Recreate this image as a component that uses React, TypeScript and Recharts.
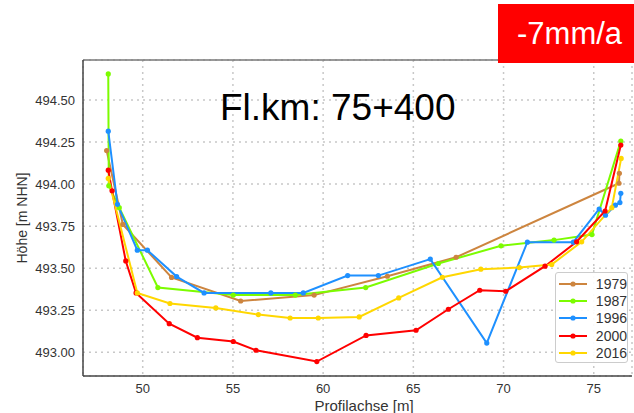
import { CartesianGrid, Line, LineChart, ReferenceLine, XAxis, YAxis } from "recharts";

const C = {
  y1979: "#CD853F",
  y1987: "#7CFC00",
  y1996: "#1E90FF",
  y2000: "#FF0000",
  y2016: "#FFD700",
  grid: "#C8C8C8",
  axis: "#444444",
  text: "#333333",
};

const FONT = "'Liberation Sans', Arial, sans-serif";

const xTicks = [50, 55, 60, 65, 70, 75];
const yTicks = [493.0, 493.25, 493.5, 493.75, 494.0, 494.25, 494.5];

const s1979 = [
  { x: 48.0, y: 494.2 }, { x: 48.9, y: 493.76 }, { x: 51.6, y: 493.445 }, { x: 55.43, y: 493.305 },
  { x: 59.5, y: 493.34 }, { x: 63.56, y: 493.452 }, { x: 67.37, y: 493.565 }, { x: 76.4, y: 494.005 },
  { x: 76.42, y: 494.064 },
];
const s1987 = [
  { x: 48.09, y: 494.655 }, { x: 48.12, y: 493.99 }, { x: 48.7, y: 493.86 }, { x: 50.84, y: 493.385 },
  { x: 55.02, y: 493.34 }, { x: 58.46, y: 493.34 }, { x: 62.36, y: 493.385 }, { x: 66.39, y: 493.528 },
  { x: 69.86, y: 493.633 }, { x: 72.8, y: 493.667 }, { x: 74.9, y: 493.7 }, { x: 76.5, y: 494.256 },
];
const s1996 = [
  { x: 48.09, y: 494.315 }, { x: 48.6, y: 493.88 }, { x: 49.7, y: 493.607 }, { x: 50.26, y: 493.607 },
  { x: 51.88, y: 493.45 }, { x: 53.4, y: 493.353 }, { x: 57.1, y: 493.353 }, { x: 58.9, y: 493.353 },
  { x: 61.36, y: 493.456 }, { x: 63.06, y: 493.456 }, { x: 65.94, y: 493.554 }, { x: 69.07, y: 493.055 },
  { x: 71.32, y: 493.655 }, { x: 73.87, y: 493.655 }, { x: 75.3, y: 493.852 }, { x: 75.65, y: 493.815 },
  { x: 76.2, y: 493.875 }, { x: 76.45, y: 493.89 }, { x: 76.5, y: 493.945 },
];
const s2000 = [
  { x: 48.09, y: 494.083 }, { x: 48.3, y: 493.96 }, { x: 49.06, y: 493.543 }, { x: 49.63, y: 493.353 },
  { x: 51.47, y: 493.17 }, { x: 53.03, y: 493.087 }, { x: 55.02, y: 493.064 }, { x: 56.28, y: 493.012 },
  { x: 59.65, y: 492.945 }, { x: 62.38, y: 493.1 }, { x: 65.15, y: 493.131 }, { x: 66.94, y: 493.256 },
  { x: 68.68, y: 493.369 }, { x: 70.12, y: 493.363 }, { x: 72.3, y: 493.512 }, { x: 74.05, y: 493.657 },
  { x: 75.63, y: 493.84 }, { x: 76.5, y: 494.232 },
];
const s2016 = [
  { x: 48.09, y: 494.034 }, { x: 49.7, y: 493.353 }, { x: 51.51, y: 493.29 }, { x: 54.05, y: 493.264 },
  { x: 56.41, y: 493.224 }, { x: 58.17, y: 493.204 }, { x: 59.73, y: 493.204 }, { x: 62.0, y: 493.21 },
  { x: 64.19, y: 493.323 }, { x: 66.61, y: 493.446 }, { x: 68.74, y: 493.494 }, { x: 70.88, y: 493.504 },
  { x: 72.67, y: 493.522 }, { x: 74.33, y: 493.657 }, { x: 76.0, y: 493.86 }, { x: 76.52, y: 494.153 },
];

const series = [
  { name: "1979", data: s1979, color: C.y1979 },
  { name: "1987", data: s1987, color: C.y1987 },
  { name: "1996", data: s1996, color: C.y1996 },
  { name: "2000", data: s2000, color: C.y2000 },
  { name: "2016", data: s2016, color: C.y2016 },
];

const Y_TOP = 494.738;

// legend sits inside the plot, so it's drawn as a plain overlay
function LegendBox() {
  return (
    <div
      style={{
        position: "absolute",
        left: 555,
        top: 272,
        width: 73,
        height: 91,
        boxSizing: "border-box",
        background: "rgba(255,255,255,0.9)",
        border: "1px solid #CCCCCC",
        borderRadius: 3,
        padding: "2px 0 0 2px",
        fontFamily: FONT,
        fontSize: 14,
        color: C.text,
      }}
    >
      {series.map((s) => (
        <div key={s.name} style={{ display: "flex", alignItems: "center", height: 17.3 }}>
          <svg width={30} height={10} style={{ marginRight: 9 }}>
            <line x1={1} y1={5} x2={29} y2={5} stroke={s.color} strokeWidth={2} />
            <circle cx={15} cy={5} r={2.6} fill={s.color} />
          </svg>
          <span>{s.name}</span>
        </div>
      ))}
    </div>
  );
}

export default function App() {
  return (
    <div style={{ position: "absolute", left: 0, top: 0, width: 634, height: 413, background: "#fff", overflow: "hidden" }}>
      <LineChart width={634} height={413} margin={{ top: 60, right: 2, left: 23, bottom: 17 }}>
        <CartesianGrid stroke={C.grid} strokeDasharray="2 4" strokeWidth={1.5} />
        <XAxis
          type="number"
          dataKey="x"
          domain={[46.69, 77.12]}
          ticks={xTicks}
          allowDataOverflow
          height={20}
          tick={{ fontSize: 13, fontFamily: FONT, fill: C.text }}
          tickLine={false}
          axisLine={{ stroke: C.axis, strokeWidth: 1.5 }}
        />
        <YAxis
          type="number"
          dataKey="y"
          domain={[492.859, Y_TOP]}
          ticks={yTicks}
          allowDataOverflow
          width={60}
          tickFormatter={(v: number) => v.toFixed(2)}
          tick={{ fontSize: 13, fontFamily: FONT, fill: C.text }}
          tickLine={false}
          axisLine={{ stroke: C.axis, strokeWidth: 1.5 }}
        />
        <ReferenceLine y={Y_TOP} stroke="#777777" strokeWidth={1.5} />
        {series.map((s) => (
          <Line
            key={s.name}
            data={s.data}
            dataKey="y"
            name={s.name}
            type="linear"
            stroke={s.color}
            strokeWidth={2}
            dot={{ r: 2.6, fill: s.color, stroke: s.color, strokeWidth: 0 }}
            isAnimationActive={false}
          />
        ))}
      </LineChart>

      <LegendBox />
      <div style={{ position: "absolute", left: 220, top: 87, fontFamily: FONT, fontSize: 37, color: "#000", whiteSpace: "nowrap" }}>
        Fl.km: 75+400
      </div>
      <div
        style={{
          position: "absolute",
          left: 498,
          top: 4,
          width: 136,
          height: 59,
          background: "#FF0000",
          color: "#fff",
          fontFamily: FONT,
          fontSize: 31,
          lineHeight: "59px",
          paddingLeft: 19,
          boxSizing: "border-box",
          whiteSpace: "nowrap",
        }}
      >
        -7mm/a
      </div>
      <div
        style={{
          position: "absolute",
          left: 22,
          top: 218,
          transform: "translate(-50%, -50%) rotate(-90deg)",
          fontFamily: FONT,
          fontSize: 14,
          color: C.text,
          whiteSpace: "nowrap",
        }}
      >
        Höhe [m NHN]
      </div>
      <div
        style={{
          position: "absolute",
          left: 364,
          top: 405,
          transform: "translate(-50%, -50%)",
          fontFamily: FONT,
          fontSize: 15,
          color: C.text,
          whiteSpace: "nowrap",
        }}
      >
        Profilachse [m]
      </div>
    </div>
  );
}
